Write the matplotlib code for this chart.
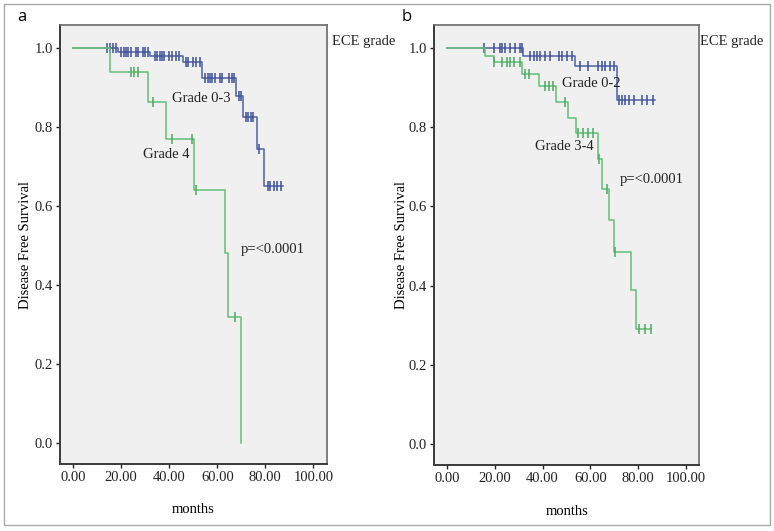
"""Kaplan-Meier disease free survival by ECE grade, two panels."""

import matplotlib

matplotlib.use("Agg")
import matplotlib.pyplot as plt
import numpy as np
from matplotlib.patches import Rectangle

# panel a, Grade 0-3
a_low_times = [0, 18.8, 32.0, 45.6, 53.8, 67.7, 70.8, 76.7, 79.5]
a_low_surv = [1.0, 0.99, 0.98, 0.965, 0.925, 0.88, 0.825, 0.745, 0.65]
a_low_end = 87.3
a_low_cens = [14, 15.5, 16.5, 18, 20, 21, 22, 23, 24, 26, 27, 29, 30, 31,
              34, 35, 36, 37, 38, 40, 41, 43, 44, 47, 48, 50, 51, 53,
              55, 56, 57, 58, 59, 61, 62, 65, 66, 67, 69, 70,
              72, 73, 74, 75, 77.5, 81, 82, 83.5, 85, 86.5]

# panel a, Grade 4
a_high_times = [0, 15.3, 31.3, 38.5, 50.4, 63.2, 64.6, 69.7]
a_high_surv = [1.0, 0.94, 0.865, 0.77, 0.64, 0.48, 0.32, 0.0]
a_high_end = 69.7
a_high_cens = [24, 25.5, 27, 33.3, 41.3, 49.5, 51, 67.4]

# panel b, Grade 0-2
b_low_times = [0, 31.6, 53.7, 71.1]
b_low_surv = [1.0, 0.98, 0.955, 0.87]
b_low_end = 87.2
b_low_cens = [15.3, 19.5, 22.3, 23, 24.4, 26.5, 28.6, 30.7, 31.4,
              34.9, 36.2, 37.7, 39, 41.1, 43.2, 46.7, 48.1, 50.2, 52.3,
              55.8, 59.2, 63.4, 64.9, 66.2, 68.3, 69.7,
              71.8, 73.2, 74.6, 76, 78.1, 81.6, 83.7, 86.4]

# panel b, Grade 3-4
b_high_times = [0, 16.0, 19.5, 31.4, 38.3, 45.6, 50.6, 54.1, 63.0, 64.8,
                67.6, 69.9, 77.0, 79.2]
b_high_surv = [1.0, 0.98, 0.965, 0.935, 0.905, 0.865, 0.825, 0.785, 0.72,
               0.645, 0.565, 0.485, 0.39, 0.29]
b_high_end = 85.4
b_high_cens = [19.6, 23, 25, 26.5, 28, 30.7, 32.8, 34.5, 41, 42.5, 44.5,
               49.5, 55, 57, 59, 61, 63.5, 67, 70.5, 80.5, 83, 85.4]

x_ticks = [0, 20, 40, 60, 80, 100]
y_ticks = [0.0, 0.2, 0.4, 0.6, 0.8, 1.0]

BLUE = "#5566a6"
BLUE_MARK = "#3d4f9c"
GREEN = "#68c07c"
GREEN_MARK = "#4da862"
SERIF = "Liberation Serif"


def km_curve(ax, times, surv, end, cens, color, mark_color):
    t = np.append(times, end)
    s = np.append(surv, surv[-1])
    ax.step(t, s, where="post", color=color, lw=1.15)
    idx = np.searchsorted(times, cens, side="right") - 1
    levels = np.asarray(surv)[idx]
    ax.plot(cens, levels, ls="none", marker="|", ms=6.5, mew=1.1, color=mark_color)


def style_axes(ax, ypad):
    ax.set_facecolor("#f0f0f0")
    ax.set_xlim(-5.5, 105.7)
    ax.set_ylim(-0.054, 1.059)
    ax.set_xticks(x_ticks)
    ax.set_xticklabels([f"{v:.2f}" for v in x_ticks])
    ax.set_yticks(y_ticks)
    ax.set_yticklabels([f"{v:.1f}" for v in y_ticks])
    ax.tick_params(length=3, width=1, colors="#222222", labelsize=10.5, pad=2)
    for lbl in ax.get_xticklabels() + ax.get_yticklabels():
        lbl.set_family(SERIF)
    for side in ["left", "bottom"]:
        ax.spines[side].set_color("#3a3a3a")
        ax.spines[side].set_linewidth(1.4)
    for side in ["top", "right"]:
        ax.spines[side].set_color("#6a6a6a")
        ax.spines[side].set_linewidth(1.2)
    ax.set_xlabel("months", family=SERIF, fontsize=10.5, labelpad=14)
    ax.set_ylabel("Disease Free Survival", family=SERIF, fontsize=10.5, labelpad=ypad)


fig = plt.figure(figsize=(7.74, 5.31), dpi=100)
fig.patches.append(Rectangle((4 / 774, 6 / 531), 766 / 774, 521 / 531,
                             transform=fig.transFigure, fill=False,
                             edgecolor="#a8a8a8", lw=1.0))

ax_a = fig.add_axes([0.0775, 0.126, 0.345, 0.827])
ax_b = fig.add_axes([0.5607, 0.124, 0.343, 0.829])

km_curve(ax_a, a_low_times, a_low_surv, a_low_end, a_low_cens, BLUE, BLUE_MARK)
km_curve(ax_a, a_high_times, a_high_surv, a_high_end, a_high_cens, GREEN, GREEN_MARK)
km_curve(ax_b, b_low_times, b_low_surv, b_low_end, b_low_cens, BLUE, BLUE_MARK)
km_curve(ax_b, b_high_times, b_high_surv, b_high_end, b_high_cens, GREEN, GREEN_MARK)

style_axes(ax_a, 2)
style_axes(ax_b, 0.5)

txt = dict(family=SERIF, fontsize=10.5, va="center", ha="left", color="#222222")
ax_a.text(41, 0.872, "Grade 0-3", **txt)
ax_a.text(29.2, 0.73, "Grade 4", **txt)
ax_a.text(69.7, 0.49, "p=<0.0001", **txt)
ax_b.text(48.1, 0.911, "Grade 0-2", **txt)
ax_b.text(36.9, 0.751, "Grade 3-4", **txt)
ax_b.text(72.5, 0.667, "p=<0.0001", **txt)

fig.text(332 / 774, 1 - 42 / 531, "ECE grade", **txt)
fig.text(700 / 774, 1 - 42 / 531, "ECE grade", **txt)
fig.text(17 / 774, 1 - 17 / 531, "a", family="Open Sans", fontsize=12, va="center")
fig.text(402 / 774, 1 - 17 / 531, "b", family="Open Sans", fontsize=12, va="center")

fig.savefig("out.png", dpi=100)
